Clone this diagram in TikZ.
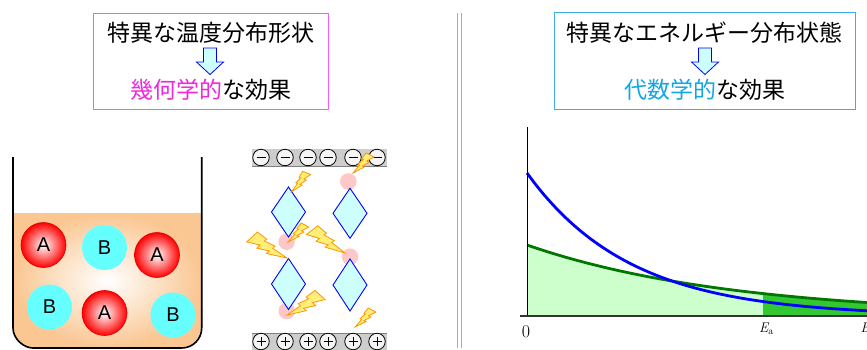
\documentclass[tikz,border=0pt]{standalone}
\usepackage{fontspec}
\newfontfamily\jpfont{Noto Sans CJK JP}
\newfontfamily\lsans{Liberation Sans}
\definecolor{magtext}{RGB}{240,40,220}
\definecolor{magframe}{RGB}{250,90,250}
\definecolor{cyantext}{RGB}{20,165,230}
\definecolor{cyanframe}{RGB}{60,175,235}
\definecolor{arrowfill}{RGB}{205,255,255}
\definecolor{peach}{RGB}{250,198,145}
\definecolor{ballcyan}{RGB}{102,255,255}
\definecolor{gemfill}{RGB}{205,255,255}
\definecolor{spotpink}{RGB}{255,200,200}
\definecolor{plategray}{RGB}{205,205,205}
\definecolor{boltyellow}{RGB}{255,238,120}
\definecolor{boltorange}{RGB}{255,150,0}
\definecolor{lightgreen}{RGB}{204,255,204}
\definecolor{darkgreen}{RGB}{50,200,50}
\definecolor{curvegreen}{RGB}{0,120,0}
\definecolor{divblue}{RGB}{160,160,255}
\tikzset{
  titlebox/.style={draw, line width=1pt, inner sep=0pt},
  jptext/.style={font=\jpfont\fontsize{23}{23}\selectfont, inner sep=0pt},
  downarrow/.style={draw=blue, fill=arrowfill, line width=0.8pt, line join=miter},
  ballA/.style={circle, minimum size=45pt, inner sep=0pt, draw={rgb,255:red,220;green,0;blue,0}, line width=0.6pt,
    inner color=white, outer color=red, font=\lsans\fontsize{20}{20}\selectfont},
  ballB/.style={circle, minimum size=45pt, inner sep=0pt, fill=ballcyan, font=\lsans\fontsize{20}{20}\selectfont},
  gem/.style={draw=blue, fill=gemfill, line width=0.9pt, line join=miter},
  ioncircle/.style={circle, minimum size=16.5pt, inner sep=0pt, draw=black, fill={rgb,255:red,245;green,245;blue,245}, line width=0.8pt},
  boltstyle/.style={fill=boltyellow, draw=boltorange, line width=0.8pt, line join=miter},
  zerolabel/.style={inner sep=0pt, font=\fontsize{18}{18}\selectfont},
  elabel/.style={inner sep=0pt, font=\fontsize{14}{14}\selectfont\itshape},
  boltL/.pic={\path[boltstyle] (0,0) -- (-0.3163,-0.4023) -- (-0.2334,-0.4437) -- (-0.4894,-0.6833)
      -- (-0.4060,-0.7167) -- (-0.6084,-1) -- (-1,-0.8184) -- (-0.6498,-0.6104) -- (-0.7688,-0.55)
      -- (-0.4353,-0.3563) -- (-0.5376,-0.3086) -- cycle;},
  boltR/.pic={\path[boltstyle] (0,0) -- (0.3163,-0.4023) -- (0.2334,-0.4437) -- (0.4894,-0.6833)
      -- (0.4060,-0.7167) -- (0.6084,-1) -- (1,-0.8184) -- (0.6498,-0.6104) -- (0.7688,-0.55)
      -- (0.4353,-0.3563) -- (0.5376,-0.3086) -- cycle;},
}
\newcommand{\subA}{\raisebox{-2.5pt}{\upshape\fontsize{10}{10}\selectfont a}}
\begin{document}
\begin{tikzpicture}[x=1pt,y=-1pt]
\useasboundingbox (0,0) rectangle (867,349);
\clip (0,0) rectangle (867,349);

% ---- left title box
\node[titlebox, draw=magframe, minimum width=235pt, minimum height=96pt] (lbox) at (210.5,61) {};
\node[jptext] (l1) at (210.5,32.5) {特異な温度分布形状};
\node[jptext] (l2) at (210.5,90) {\textcolor{magtext}{幾何学的}な効果};
\path[downarrow] (203.5,48) -- (216.5,48) -- (216.5,62) -- (223.5,62) -- (210,74.5)
  -- (196.5,62) -- (203.5,62) -- cycle;

% ---- right title box
\node[titlebox, draw=cyanframe, minimum width=301pt, minimum height=97pt] (rbox) at (704.5,60.5) {};
\node[jptext] (r1) at (704.5,32.5) {特異なエネルギー分布状態};
\node[jptext] (r2) at (704.5,90) {\textcolor{cyantext}{代数学的}な効果};
\path[downarrow] (698.5,48) -- (711.5,48) -- (711.5,62) -- (718.5,62) -- (705,74.5)
  -- (691.5,62) -- (698.5,62) -- cycle;

% ---- divider
\draw[divblue, line width=0.9pt] (457.3,13) -- (457.3,348);
\draw[divblue, line width=0.9pt] (461.3,13) -- (461.3,348);

% ---- beaker with liquid (flat surface, rounded bottom)
\path[inner color=white, outer color=peach]
  (13,213) -- (13,328) .. controls (13,339.05) and (23.95,348) .. (33,348)
  -- (181.7,348) .. controls (192.75,348) and (201.7,339.05) .. (201.7,328)
  -- (201.7,213) -- cycle;
\draw[line width=1.6pt]
  (13,157) -- (13,328) .. controls (13,339.05) and (23.95,348) .. (33,348)
  -- (181.7,348) .. controls (192.75,348) and (201.7,339.05) .. (201.7,328)
  -- (201.7,157);
\node[ballA] (a1) at (43.5,245) {A};
\node[ballB] (b1) at (104.5,247.5) {B};
\node[ballA] (a2) at (157,255) {A};
\node[ballB] (b2) at (49.5,307) {B};
\node[ballA] (a3) at (104.5,313) {A};
\node[ballB] (b3) at (173,315) {B};

% ---- electrode plates
\fill[plategray] (252,149) rectangle (387,166);
\draw[gray, line width=0.8pt] (252,166) -- (387,166);
\fill[plategray] (252,333) rectangle (387,352);
\draw[gray, line width=0.8pt] (252,333) -- (387,333);
\foreach \i/\px in {1/261,2/285,3/308,4/328,5/353,6/377}{
  \node[ioncircle] (m\i) at (\px,157.5) {};
  \draw[line width=0.8pt] (\px-4.5,157.5) -- (\px+4.5,157.5);
  \node[ioncircle] (p\i) at (\px,341.5) {};
  \draw[line width=0.8pt] (\px-4.5,341.5) -- (\px+4.5,341.5) (\px,337) -- (\px,346);
}

% ---- pink spots and crystals
\fill[spotpink] (348.3,181.5) circle[radius=8.3];
\fill[spotpink] (286.7,241.7) circle[radius=8.3];
\fill[spotpink] (350,256.7) circle[radius=8.3];
\fill[spotpink] (286.7,311) circle[radius=8.3];
\path[gem] (288.5,187) -- (305.5,212) -- (288.5,237) -- (271.5,212) -- cycle;
\path[gem] (350,188.3) -- (367,213.3) -- (350,238.3) -- (333,213.3) -- cycle;
\path[gem] (288.5,258.5) -- (305.5,284) -- (288.5,309.5) -- (271.5,284) -- cycle;
\path[gem] (350,259) -- (367,285) -- (350,311) -- (333,285) -- cycle;

% ---- lightning bolts
\pic[rotate=2.8, scale=19.8] at (291.7,191.7) {boltR};
\pic[rotate=-1.9, scale=20.4] at (353,173) {boltR};
\pic[rotate=-3.5, scale=19.8] at (288,242) {boltR};
\pic[rotate=17.5, scale=33.6] at (287,258) {boltL};
\pic[rotate=13.6, scale=33] at (345,253) {boltL};
\pic[rotate=-17.3, scale=31.8] at (287,315) {boltR};
\pic[rotate=-3.5, scale=19.8] at (355,327) {boltR};

% ---- energy distribution graph
\fill[lightgreen] (527,316) -- plot[domain=527:763, samples=60] (\x,{316-71*exp(-0.00488*(\x-527))}) -- (763,316) -- cycle;
\fill[darkgreen] (763,316) -- plot[domain=763:870, samples=30] (\x,{316-71*exp(-0.00488*(\x-527))}) -- (870,316) -- cycle;
\draw[curvegreen, line width=2.8pt] plot[domain=527:870, samples=80] (\x,{316-71*exp(-0.00488*(\x-527))});
\draw[blue, line width=2.8pt] plot[domain=527:870, samples=100] (\x,{316-143*exp(-0.0097*(\x-527))});
\draw[black, line width=0.8pt] (527,127) -- (527,316);
\draw[black!80, line width=1.3pt] (520,316) -- (870,316);
\node[zerolabel, anchor=base] (zero) at (526,337) {0};
\node[elabel, anchor=base west] (ea) at (759,332) {E\subA};
\node[elabel, anchor=base west] (eend) at (860.5,332) {E};
\end{tikzpicture}
\end{document}
